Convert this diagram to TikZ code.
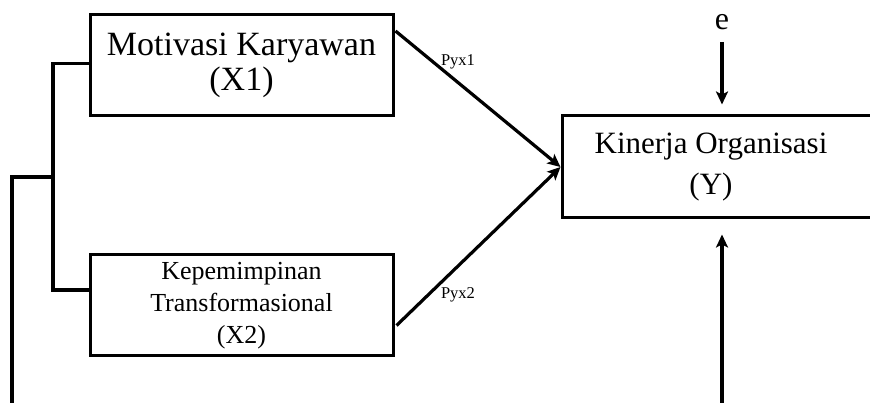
\documentclass[tikz,border=0pt]{standalone}
\usepackage{fontspec}
\setmainfont{Liberation Serif}
\usetikzlibrary{arrows.meta,calc}
\begin{document}
\begin{tikzpicture}[x=1pt,y=1pt,
  varbox/.style={draw,line width=3pt,rectangle,minimum width=303pt,minimum height=101pt,inner sep=0pt},
  conn/.style={line width=3.2pt},
  arr/.style={conn,-{Stealth[length=13pt,width=12pt,inset=3pt]}},
  lbl/.style={inner sep=0pt,font=\fontsize{16.5}{18}\selectfont}]
\useasboundingbox (0,0) rectangle (870,403);
\clip (0,0) rectangle (870,403);
\node[varbox,align=center,font=\fontsize{34}{35}\selectfont] (X1) at (241.5,338) {Motivasi Karyawan\\(X1)};
\node[varbox,align=center,font=\fontsize{26}{32}\selectfont] (X2) at (241.5,97.5) {Kepemimpinan\\Transformasional\\(X2)};
\node[draw,line width=3pt,rectangle,minimum width=328pt,minimum height=102pt,inner sep=0pt] (Y) at (726,236) {};
\node[align=center,inner sep=0pt,font=\fontsize{31}{41}\selectfont] (Ytext) at (711,236) {Kinerja Organisasi\\(Y)};
\node[inner sep=0pt,font=\fontsize{32}{34}\selectfont] (e) at (722,381) {e};
\node[lbl] (p1) at (458,341) {Pyx1};
\node[lbl] (p2) at (458,108) {Pyx2};
% bracket
\coordinate (j1) at (53,339.5);
\coordinate (j2) at (53,113);
\coordinate (j3) at (53,226);
\coordinate (j4) at (12,226);
\coordinate (j5) at (12,-5);
\draw[conn] ($(X1.west)+(0,1.5)$) -- (j1) -- (j2) -- (j2 -| X2.west);
\draw[conn] (j3) -- (j4) -- (j5);
% paths
\draw[arr] ($(X1.north east)+(1,-18)$) -- (Y.west);
\draw[arr] ($(X2.south east)+(2,32)$) -- (Y.west);
\draw[arr,shorten >=10pt] (e.south |- 0,361) -- (e.south |- Y.north);
\coordinate (b) at (722,-5);
\draw[arr,shorten >=15pt] (b) -- (b |- Y.south);
\end{tikzpicture}
\end{document}
